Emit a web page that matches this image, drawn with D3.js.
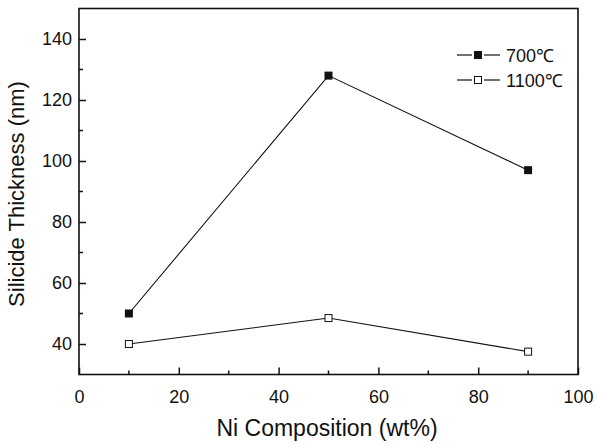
<!DOCTYPE html>
<html>
<head>
<meta charset="utf-8">
<script src="https://cdn.jsdelivr.net/npm/d3@7"></script>
<style>
body { margin: 0; background: #fff; }
text { font-family: "Liberation Sans", Arial, sans-serif; fill: #111; }
</style>
</head>
<body>
<div id="graph"></div>
<script>
var w = 596
var h = 445

// data
var niComp = [10, 50, 90]
var t700 = [50, 128, 97]
var t1100 = [40, 48.5, 37.5]
var seriesNames = ["700\u2103", "1100\u2103"]
var xTicks = [0, 20, 40, 60, 80, 100]
var yTicks = [40, 60, 80, 100, 120, 140]

// plot box (note: "top" is taken by window.top, so use other names)
var pLeft = 79, pRight = 578, pTop = 8.5, pBottom = 374.5

var svg = d3.select("#graph").append("svg")
    .attr("width", w)
    .attr("height", h)

var x = d3.scaleLinear().domain([0, 100]).range([pLeft, pRight])
var y = d3.scaleLinear().domain([30, 150]).range([pBottom, pTop])

// frame
svg.append("rect")
    .attr("x", pLeft)
    .attr("y", pTop)
    .attr("width", pRight - pLeft)
    .attr("height", pBottom - pTop)
    .attr("fill", "none")
    .attr("stroke", "#111")
    .attr("stroke-width", 1.6)

// x axis, ticks pointing inward
var xAxis = d3.axisBottom(x).tickValues(xTicks).tickSize(-7).tickPadding(16)
var gx = svg.append("g")
    .attr("transform", "translate(0," + pBottom + ")")
    .call(xAxis)
gx.select(".domain").remove()
gx.selectAll("text").style("font-size", "18px")
gx.selectAll("line").attr("stroke", "#111").attr("stroke-width", 1.5)
// minor x ticks
svg.append("g").selectAll("line")
    .data(d3.range(10, 100, 20))
    .join("line")
    .attr("x1", d => x(d)).attr("x2", d => x(d))
    .attr("y1", pBottom).attr("y2", pBottom - 4)
    .attr("stroke", "#111").attr("stroke-width", 1.5)

// y axis
var yAxis = d3.axisLeft(y).tickValues(yTicks).tickSize(-7).tickPadding(7)
var gy = svg.append("g")
    .attr("transform", "translate(" + pLeft + ",0)")
    .call(yAxis)
gy.select(".domain").remove()
gy.selectAll("text").style("font-size", "18px")
gy.selectAll("line").attr("stroke", "#111").attr("stroke-width", 1.5)
svg.append("g").selectAll("line")
    .data(d3.range(50, 150, 20))
    .join("line")
    .attr("y1", d => y(d)).attr("y2", d => y(d))
    .attr("x1", pLeft).attr("x2", pLeft + 4)
    .attr("stroke", "#111").attr("stroke-width", 1.5)

// axis titles
svg.append("text")
    .attr("x", 327)
    .attr("y", 436)
    .attr("text-anchor", "middle")
    .style("font-size", "23px")
    .text("Ni Composition (wt%)")

svg.append("text")
    .attr("transform", "translate(24,194) rotate(-90)")
    .attr("text-anchor", "middle")
    .style("font-size", "22px")
    .text("Silicide Thickness (nm)")

// lines
var line = d3.line().x(d => x(d[0])).y(d => y(d[1]))
var s700 = niComp.map((d, i) => [d, t700[i]])
var s1100 = niComp.map((d, i) => [d, t1100[i]])

svg.append("path").datum(s700)
    .attr("d", line).attr("fill", "none").attr("stroke", "#111").attr("stroke-width", 1.1)
svg.append("path").datum(s1100)
    .attr("d", line).attr("fill", "none").attr("stroke", "#111").attr("stroke-width", 1.1)

var ms = 8
svg.append("g").selectAll("rect")
    .data(s700).join("rect")
    .attr("x", d => x(d[0]) - ms / 2).attr("y", d => y(d[1]) - ms / 2)
    .attr("width", ms).attr("height", ms)
    .attr("fill", "#111")
svg.append("g").selectAll("rect")
    .data(s1100).join("rect")
    .attr("x", d => x(d[0]) - ms / 2 + 0.5).attr("y", d => y(d[1]) - ms / 2 + 0.5)
    .attr("width", ms - 1).attr("height", ms - 1)
    .attr("fill", "#fff").attr("stroke", "#111").attr("stroke-width", 1)

// legend
var legend = svg.append("g")
var legY = [55, 80]
seriesNames.forEach(function (name, i) {
    var g = legend.append("g").attr("transform", "translate(0," + legY[i] + ")")
    g.append("line").attr("x1", 457).attr("x2", 472).attr("y1", 0).attr("y2", 0)
        .attr("stroke", "#111").attr("stroke-width", 1.2)
    g.append("line").attr("x1", 484).attr("x2", 500).attr("y1", 0).attr("y2", 0)
        .attr("stroke", "#111").attr("stroke-width", 1.2)
    if (i == 0) {
        g.append("rect").attr("x", 474).attr("y", -4).attr("width", 8).attr("height", 8).attr("fill", "#111")
    } else {
        g.append("rect").attr("x", 474.5).attr("y", -3.5).attr("width", 7).attr("height", 7)
            .attr("fill", "#fff").attr("stroke", "#111")
    }
    g.append("text").attr("x", 506).attr("y", 6.5)
        .style("font-size", "18px")
        .text(name)
})
</script>
</body>
</html>
